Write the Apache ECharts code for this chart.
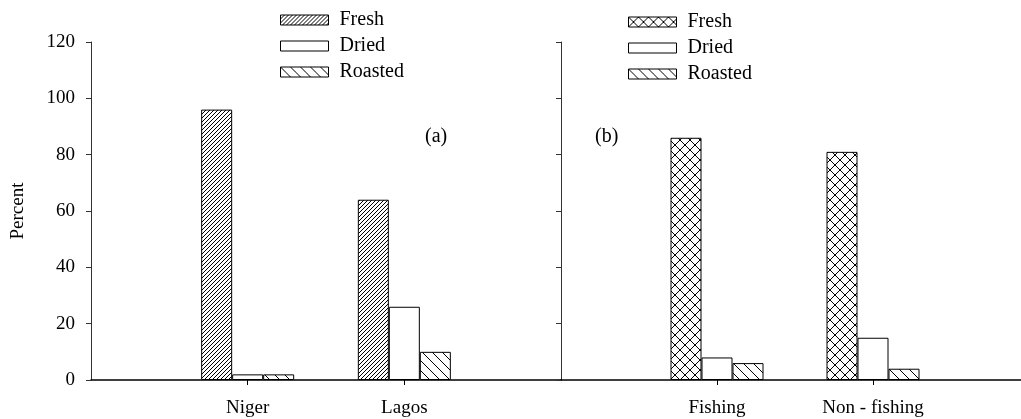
<!DOCTYPE html>
<html>
<head>
<meta charset="utf-8">
<script src="https://cdn.jsdelivr.net/npm/echarts@6/dist/echarts.min.js"></script>
<style>
html,body{margin:0;padding:0;background:#fff;}
#chart{width:1021px;height:419px;}
</style>
</head>
<body>
<div id="chart"></div>
<script>
// ---- data ----
const seriesNames = ['Fresh', 'Dried', 'Roasted'];
const categoriesA = ['Niger', 'Lagos'];
const freshA = [96, 64];
const driedA = [2, 26];
const roastedA = [2, 10];
const categoriesB = ['Fishing', 'Non - fishing'];
const freshB = [86, 81];
const driedB = [8, 15];
const roastedB = [6, 4];
const yMin = 0, yMax = 120, yStep = 20;
const panelLabels = ['(a)', '(b)'];

// ---- patterns ----
function makeTile(size, draw) {
  const c = document.createElement('canvas');
  c.width = size; c.height = size;
  const ctx = c.getContext('2d');
  ctx.fillStyle = '#fff';
  ctx.fillRect(0, 0, size, size);
  ctx.strokeStyle = '#000';
  ctx.lineWidth = 1;
  draw(ctx, size);
  return { image: c, repeat: 'repeat' };
}
function fwd(ctx, s) {
  ctx.beginPath();
  [0, s, 2 * s].forEach(cc => { ctx.moveTo(cc + 1, -1); ctx.lineTo(-1, cc + 1); });
  ctx.stroke();
}
function bwd(ctx, s) {
  ctx.beginPath();
  [-s, 0, s].forEach(cc => { ctx.moveTo(cc - 1, -1); ctx.lineTo(cc + s + 1, s + 1); });
  ctx.stroke();
}
const patFwd = makeTile(4, fwd);
const patBwd = makeTile(10, bwd);
const patCross = makeTile(10, (ctx, s) => { fwd(ctx, s); bwd(ctx, s); });

const FONT = 'Liberation Serif';
const pad = a => [null].concat(a, [null]);
const padCat = a => [''].concat(a, ['']);

const stylesA = [patFwd, '#fff', patBwd];
const stylesB = [patCross, '#fff', patBwd];
const valsA = [freshA, driedA, roastedA];
const valsB = [freshB, driedB, roastedB];

function xAxis(gi, cats) {
  return {
    type: 'category', gridIndex: gi, data: padCat(cats), boundaryGap: false,
    axisLine: { lineStyle: { color: '#000', width: 1.5 } },
    axisTick: { length: 5, lineStyle: { color: '#000' }, interval: (i, v) => v !== '' },
    axisLabel: { interval: 0, margin: 19, color: '#000', fontFamily: FONT, fontSize: 19 },
    splitLine: { show: false }
  };
}
function yAxis(gi, showLabels) {
  return {
    type: 'value', gridIndex: gi, min: yMin, max: yMax, interval: yStep,
    name: showLabels ? 'Percent' : '', nameLocation: 'middle', nameRotate: 90, nameGap: 63,
    nameTextStyle: { color: '#000', fontFamily: FONT, fontSize: 19 },
    axisLine: { show: true, lineStyle: { color: '#333', width: 1 } },
    axisTick: { show: true, length: 5, lineStyle: { color: '#333' } },
    axisLabel: { show: showLabels, margin: 16, color: '#000', fontFamily: FONT, fontSize: 19 },
    splitLine: { show: false }
  };
}
function barSeries(gi, vals, styles) {
  return seriesNames.map((n, k) => ({
    name: n, type: 'bar', xAxisIndex: gi, yAxisIndex: gi,
    data: pad(vals[k]), barWidth: 31, barGap: '0%',
    itemStyle: { color: styles[k], borderColor: '#000', borderWidth: 1 },
    emphasis: { disabled: true }, animation: false
  }));
}
function legend(left, top, styles) {
  return {
    orient: 'vertical', left: left, top: top, itemWidth: 48, itemHeight: 10, itemGap: 6,
    icon: 'rect', selectedMode: false,
    textStyle: { color: '#000', fontFamily: FONT, fontSize: 20, padding: [0, 0, 0, 6] },
    data: seriesNames.map((n, k) => ({ name: n, itemStyle: { color: styles[k], borderColor: '#000', borderWidth: 1 } }))
  };
}

const chart = echarts.init(document.getElementById('chart'), null, { renderer: 'canvas' });
chart.setOption({
  backgroundColor: '#fff',
  animation: false,
  grid: [
    { left: 91, top: 42, width: 470, bottom: 39, outerBoundsMode: 'none', containLabel: false },
    { left: 561, top: 42, width: 468, bottom: 39, outerBoundsMode: 'none', containLabel: false }
  ],
  xAxis: [xAxis(0, categoriesA), xAxis(1, categoriesB)],
  yAxis: [yAxis(0, true), yAxis(1, false)],
  legend: [legend(275, 5, stylesA), legend(623, 7, stylesB)],
  graphic: [
    { type: 'text', left: 425, top: 127, style: { text: panelLabels[0], fill: '#000', font: '20px "Liberation Serif"' } },
    { type: 'text', left: 595, top: 127, style: { text: panelLabels[1], fill: '#000', font: '20px "Liberation Serif"' } }
  ],
  series: barSeries(0, valsA, stylesA).concat(barSeries(1, valsB, stylesB))
});
</script>
</body>
</html>
